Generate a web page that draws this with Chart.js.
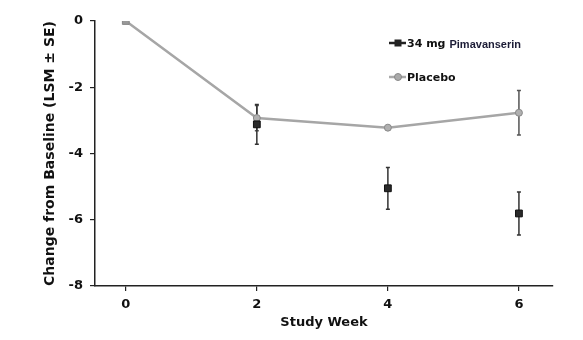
<!DOCTYPE html>
<html>
<head>
<meta charset="utf-8">
<script src="https://cdn.jsdelivr.net/npm/chart.js@4"></script>
<style>
  html, body { margin: 0; padding: 0; background: #fff; }
  #wrap { width: 583px; height: 340px; }
</style>
</head>
<body>
<div id="wrap"><canvas id="trialChart" width="583" height="340"></canvas></div>
<script>
// study weeks and results (LSM change from baseline, SE)
const weeks = [0, 2, 4, 6];
const xTicks = [0, 2, 4, 6];
const pimavanserinMean = [0, -3.12, -5.05, -5.81];
const pimavanserinSE = [0, 0.6, 0.63, 0.65];
const placeboMean = [0, -2.93, -3.22, -2.77];
const placeboSE = [0, 0.38, 0, 0.67];
const legendLabels = ["34 mg", "Pimavanserin", "Placebo"];

const FONT = "'DejaVu Sans', sans-serif";

function toPoints(xs, ys) {
    return xs.map((x, i) => ({ x: x, y: ys[i] }));
}

// whiskers drawn through the scales, under the markers
const errorBars = {
    id: "errorBars",
    beforeDatasetsDraw(chart) {
        const ctx = chart.ctx;
        const xs = chart.scales.x;
        const ys = chart.scales.y;
        const sets = [
            { mean: placeboMean, se: placeboSE, color: "#555" },
            { mean: pimavanserinMean, se: pimavanserinSE, color: "#333" }
        ];
        ctx.save();
        ctx.lineWidth = 1.5;
        sets.forEach(s => {
            ctx.strokeStyle = s.color;
            weeks.forEach((w, i) => {
                if (!s.se[i]) return;
                const px = xs.getPixelForValue(w);
                const top = ys.getPixelForValue(s.mean[i] + s.se[i]);
                const bot = ys.getPixelForValue(s.mean[i] - s.se[i]);
                ctx.beginPath();
                ctx.moveTo(px, top);
                ctx.lineTo(px, bot);
                ctx.moveTo(px - 2, top);
                ctx.lineTo(px + 2, top);
                ctx.moveTo(px - 2, bot);
                ctx.lineTo(px + 2, bot);
                ctx.stroke();
            });
        });
        ctx.restore();
    }
};

// legend sits inside the plot, drawn by hand
const insideLegend = {
    id: "insideLegend",
    afterDraw(chart) {
        const ctx = chart.ctx;
        ctx.save();
        ctx.textBaseline = "alphabetic";

        // pimavanserin entry
        let y = 43;
        ctx.strokeStyle = "#222";
        ctx.lineWidth = 2.5;
        ctx.beginPath();
        ctx.moveTo(389, y);
        ctx.lineTo(406, y);
        ctx.stroke();
        ctx.fillStyle = "#222";
        ctx.fillRect(394.5, y - 3.5, 7, 7);
        ctx.fillStyle = "#111";
        ctx.font = "bold 11px " + FONT;
        ctx.fillText(legendLabels[0], 407, y + 4);
        const w = ctx.measureText(legendLabels[0]).width;
        ctx.fillStyle = "#1c1c36";
        ctx.font = "bold 11px 'Liberation Sans', Arial, sans-serif";
        ctx.fillText(legendLabels[1], 407 + w + 4, y + 5);

        // placebo entry
        y = 77;
        ctx.strokeStyle = "#aaa";
        ctx.lineWidth = 2.5;
        ctx.beginPath();
        ctx.moveTo(389, y);
        ctx.lineTo(406, y);
        ctx.stroke();
        ctx.fillStyle = "#aaa";
        ctx.strokeStyle = "#888";
        ctx.lineWidth = 1;
        ctx.beginPath();
        ctx.arc(398, y, 3.5, 0, Math.PI * 2);
        ctx.fill();
        ctx.stroke();
        ctx.fillStyle = "#111";
        ctx.font = "bold 11px " + FONT;
        ctx.fillText(legendLabels[2], 407, y + 4);
        ctx.restore();
    }
};

const ctx = document.getElementById("trialChart").getContext("2d");

new Chart(ctx, {
    type: "scatter",
    data: {
        datasets: [
            {
                label: "34 mg Pimavanserin",
                data: toPoints(weeks, pimavanserinMean),
                showLine: false,
                pointStyle: "rect",
                pointRadius: 4.8,
                pointBackgroundColor: ["#999", "#2a2a2a", "#2a2a2a", "#2a2a2a"],
                pointBorderColor: ["#888", "#111", "#111", "#111"],
                pointBorderWidth: 1
            },
            {
                label: "Placebo",
                data: toPoints(weeks, placeboMean),
                showLine: true,
                borderColor: "#a6a6a6",
                borderWidth: 2.5,
                pointStyle: "circle",
                pointRadius: [0, 3.5, 3.5, 3.5],
                pointBackgroundColor: "#b0b0b0",
                pointBorderColor: "#888",
                pointBorderWidth: 1
            }
        ]
    },
    options: {
        responsive: false,
        animation: false,
        layout: { padding: { top: 21, right: 30, left: 0, bottom: 0 } },
        plugins: {
            legend: { display: false },
            tooltip: { enabled: false }
        },
        scales: {
            x: {
                type: "linear",
                min: -0.47,
                max: 6.52,
                afterBuildTicks: s => { s.ticks = xTicks.map(v => ({ value: v })); },
                afterFit: s => { s.height = 54; },
                grid: { drawOnChartArea: false, drawTicks: true, tickLength: 5, color: "#222", lineWidth: 1.2 },
                border: { display: true, color: "#222", width: 1.5 },
                ticks: { color: "#111", padding: 6, font: { family: FONT, size: 13, weight: "bold" } },
                title: {
                    display: true,
                    text: "Study Week",
                    color: "#111",
                    padding: { top: 0, bottom: 10 },
                    font: { family: FONT, size: 13, weight: "bold" }
                }
            },
            y: {
                min: -8,
                max: 0,
                ticks: { stepSize: 2, color: "#111", padding: 7, font: { family: FONT, size: 13, weight: "bold" } },
                afterFit: s => { s.width = 95; },
                grid: { drawOnChartArea: false, drawTicks: true, tickLength: 5, color: "#222", lineWidth: 1.2 },
                border: { display: true, color: "#222", width: 1.5 },
                title: {
                    display: true,
                    text: "Change from Baseline (LSM ± SE)",
                    color: "#111",
                    padding: { top: 42, bottom: 0 },
                    font: { family: FONT, size: 14, weight: "bold" }
                }
            }
        }
    },
    plugins: [errorBars, insideLegend]
});
</script>
</body>
</html>
